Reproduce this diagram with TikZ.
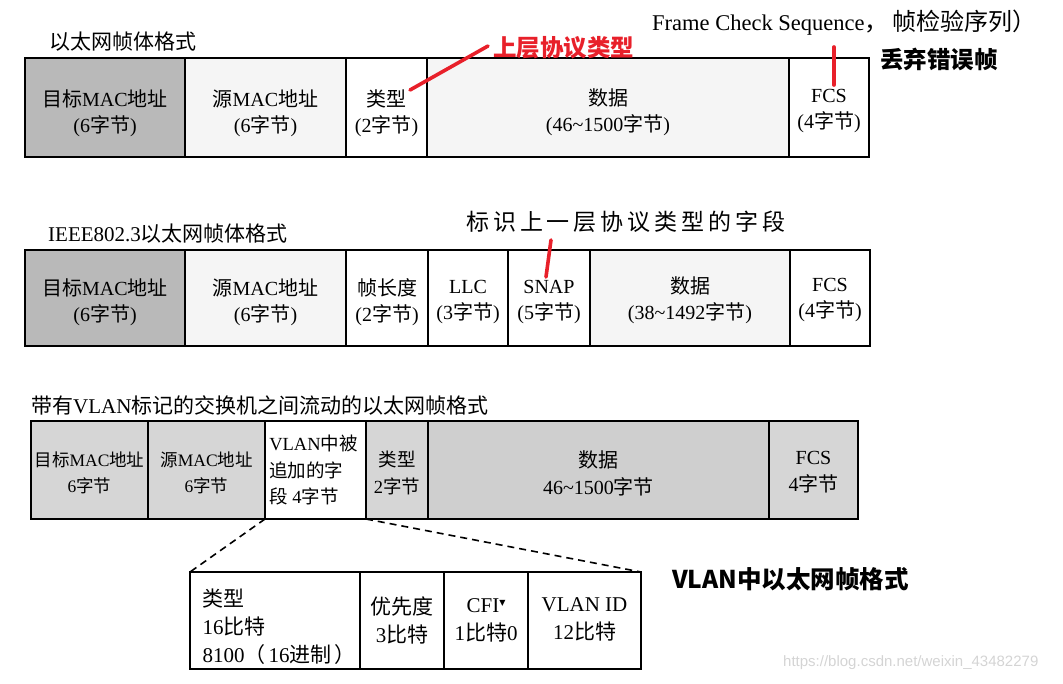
\documentclass[tikz,border=0pt]{standalone}
\usepackage{fontspec}
\setmainfont{Liberation Serif}
\newfontfamily\cjk{Noto Sans CJK SC}
\newfontfamily\cjksp[LetterSpace=17]{Noto Sans CJK SC}
\newfontfamily\symfont{DejaVu Sans}
\newfontfamily\wmfont{Liberation Sans}
\newcommand\zh[1]{{\cjk #1}}
\definecolor{redmark}{HTML}{E8202A}
\definecolor{darkcell}{HTML}{B9B9B9}
\definecolor{lightcell}{HTML}{F5F5F5}
\definecolor{midcell}{HTML}{D6D6D6}
\definecolor{datacell}{HTML}{CFCFCF}
\tikzset{
  rowA/.style={draw=black, line width=2.8pt, inner sep=0pt, outer sep=0pt, minimum height=99pt},
  rowB/.style={draw=black, line width=2.8pt, inner sep=0pt, outer sep=0pt, minimum height=96pt},
  rowC/.style={draw=black, line width=2pt, inner sep=0pt, outer sep=0pt, minimum height=98pt},
  rowD/.style={draw=black, line width=2pt, inner sep=0pt, outer sep=0pt, minimum height=97pt, fill=white},
  celltext/.style={align=center, inner sep=0pt, font=\fontsize{20}{26}\selectfont},
  smalltext/.style={align=center, inner sep=0pt, font=\fontsize{18.5}{26.5}\selectfont},
  detailtext/.style={align=center, inner sep=0pt, font=\fontsize{21}{28}\selectfont},
  title/.style={anchor=west, inner sep=0pt, font=\cjk\fontsize{21}{21}\selectfont},
  redlabel/.style={anchor=west, inner sep=0pt, text=redmark, font=\cjk\bfseries\fontsize{23.5}{23.5}\selectfont},
  blacklabel/.style={anchor=west, inner sep=0pt, font=\cjk\bfseries\fontsize{23.5}{23.5}\selectfont},
  redline/.style={draw=redmark, line width=3.6pt, line cap=round},
  zoomline/.style={draw=black, line width=1.6pt, dash pattern=on 7pt off 5pt},
}
\begin{document}
\begin{tikzpicture}[x=1pt, y=-1pt]
\useasboundingbox (0,0) rectangle (1063,683);

% ---------------- Row 1 ----------------
\node[title] (t1) at (49,41.5) {以太网帧体格式};
\node[rowA, fill=darkcell, minimum width=160pt] (a1) at (105,107.5) {};
\node[rowA, fill=lightcell, minimum width=161pt] (b1) at (265.5,107.5) {};
\node[rowA, fill=white, minimum width=81pt] (c1) at (386.5,107.5) {};
\node[rowA, fill=lightcell, minimum width=362pt] (d1) at (608,107.5) {};
\node[rowA, fill=white, minimum width=80pt] (e1) at (829,107.5) {};
\node[celltext] (a1t) at ([yshift=-6pt]a1.center) {\zh{目标}MAC\zh{地址}\\(6\zh{字节})};
\node[celltext] (b1t) at ([yshift=-6pt]b1.center) {\zh{源}MAC\zh{地址}\\(6\zh{字节})};
\node[celltext] (c1t) at ([yshift=-6pt]c1.center) {\zh{类型}\\(2\zh{字节})};
\node[celltext] (d1t) at ([yshift=-5pt]d1.center) {\zh{数据}\\(46\textasciitilde1500\zh{字节})};
\node[celltext] (e1t) at ([yshift=-4pt]e1.center) {FCS\\(4\zh{字节})};

\node[redlabel] (upper) at (493,48) {上层协议类型};
\coordinate (upperA) at (488,46);
\coordinate (upperB) at (410,90);
\draw[redline] (upperA) -- (upperB);

\node[anchor=base west, inner sep=0pt, font=\fontsize{22.5}{22.5}\selectfont] (fcsnote) at (652,30)
  {Frame Check Sequence{\cjk\fontsize{24}{24}\selectfont ，\hspace{4pt}帧检验序列）}};
\node[blacklabel] (discard) at (880,59) {丢弃错误帧};
\coordinate (fcsA) at (834,47);
\coordinate (fcsB) at (834,85);
\draw[redline] (fcsA) -- (fcsB);

% ---------------- Row 2 ----------------
\node[title] (t2) at (48,234) {\rmfamily IEEE802.3\zh{以太网帧体格式}};
\node[rowB, fill=darkcell, minimum width=160pt] (a2) at (105,298) {};
\node[rowB, fill=lightcell, minimum width=161pt] (b2) at (265.5,298) {};
\node[rowB, fill=white, minimum width=82pt] (c2) at (387,298) {};
\node[rowB, fill=white, minimum width=80pt] (d2) at (468,298) {};
\node[rowB, fill=white, minimum width=82pt] (e2) at (549,298) {};
\node[rowB, fill=lightcell, minimum width=200pt] (f2) at (690,298) {};
\node[rowB, fill=white, minimum width=80pt] (g2) at (830,298) {};
\node[celltext] (a2t) at ([yshift=-4pt]a2.center) {\zh{目标}MAC\zh{地址}\\(6\zh{字节})};
\node[celltext] (b2t) at ([yshift=-4pt]b2.center) {\zh{源}MAC\zh{地址}\\(6\zh{字节})};
\node[celltext] (c2t) at ([yshift=-4pt]c2.center) {\zh{帧长度}\\(2\zh{字节})};
\node[celltext] (d2t) at ([yshift=-4pt]d2.center) {LLC\\(3\zh{字节})};
\node[celltext] (e2t) at ([yshift=-4pt]e2.center) {SNAP\\(5\zh{字节})};
\node[celltext] (f2t) at ([yshift=-2pt]f2.center) {\zh{数据}\\(38\textasciitilde1492\zh{字节})};
\node[celltext] (g2t) at ([yshift=-2pt]g2.center) {FCS\\(4\zh{字节})};

\node[anchor=west, inner sep=0pt, font=\cjksp\fontsize{23}{23}\selectfont] (snapnote) at (466,222) {标识上一层协议类型的字段};
\coordinate (snapA) at (551,240);
\coordinate (snapB) at (546,277);
\draw[redline] (snapA) -- (snapB);

% ---------------- Row 3 ----------------
\node[title] (t3) at (31,405) {带有\rmfamily VLAN\zh{标记的交换机之间流动的以太网帧格式}};
\node[rowC, fill=midcell, minimum width=117pt] (a3) at (89.5,470) {};
\node[rowC, fill=midcell, minimum width=117pt] (b3) at (206.5,470) {};
\node[rowC, fill=white, minimum width=101pt] (c3) at (315.5,470) {};
\node[rowC, fill=midcell, minimum width=62pt] (d3) at (397,470) {};
\node[rowC, fill=datacell, minimum width=341pt] (e3) at (598.5,470) {};
\node[rowC, fill=midcell, minimum width=89pt] (f3) at (813.5,470) {};
\node[smalltext, font=\fontsize{17.5}{26}\selectfont] (a3t) at ([yshift=-3pt]a3.center) {\zh{目标}MAC\zh{地址}\\6\zh{字节}};
\node[smalltext, font=\fontsize{17.5}{26}\selectfont] (b3t) at ([yshift=-3pt]b3.center) {\zh{源}MAC\zh{地址}\\6\zh{字节}};
\node[smalltext, align=left] (c3t) at ([xshift=-2pt]c3.center) {VLAN\zh{中被}\\\zh{追加的字}\\\zh{段} 4\zh{字节}};
\node[smalltext] (d3t) at ([yshift=-3pt]d3.center) {\zh{类型}\\2\zh{字节}};
\node[smalltext, font=\fontsize{20}{27}\selectfont] (e3t) at ([yshift=-3pt]e3.center) {\zh{数据}\\46\textasciitilde1500\zh{字节}};
\node[smalltext, font=\fontsize{20}{27}\selectfont] (f3t) at ([yshift=-2pt]f3.center) {FCS\\4\zh{字节}};

% ---------------- Detail ----------------
\node[rowD, minimum width=170pt] (p) at (275,620.5) {};
\node[rowD, minimum width=84pt] (q) at (402,620.5) {};
\node[rowD, minimum width=84pt] (r) at (486,620.5) {};
\node[rowD, minimum width=113pt] (s) at (584.5,620.5) {};
\node[detailtext, align=left] (pt) at ([xshift=4pt,yshift=-6pt]p.center) {\zh{类型}\\16\zh{比特}\\8100\zh{（}\hspace{3pt}16\zh{进制}\hspace{3pt}\zh{）}};
\node[detailtext] (qt) at (q.center) {\zh{优先度}\\3\zh{比特}};
\node[detailtext] (rt) at (r.center) {CFI\raisebox{7pt}{\symfont\fontsize{8}{8}\selectfont ▼}\\1\zh{比特}0};
\node[detailtext] (st) at ([yshift=1pt]s.center) {VLAN ID\\12\zh{比特}};

\draw[zoomline] (c3.south west) -- (p.north west);
\draw[zoomline] (d3.south west) -- (s.north east);

\node[blacklabel, font=\cjk\bfseries\fontsize{24.5}{24.5}\selectfont] (vlanfmt) at (672,579) {VLAN中以太网帧格式};

\node[anchor=west, inner sep=0pt, text=black!17, font=\wmfont\fontsize{15}{15}\selectfont] (wm) at (783,663) {https://blog.csdn.net/weixin\_43482279};
\end{tikzpicture}
\end{document}
